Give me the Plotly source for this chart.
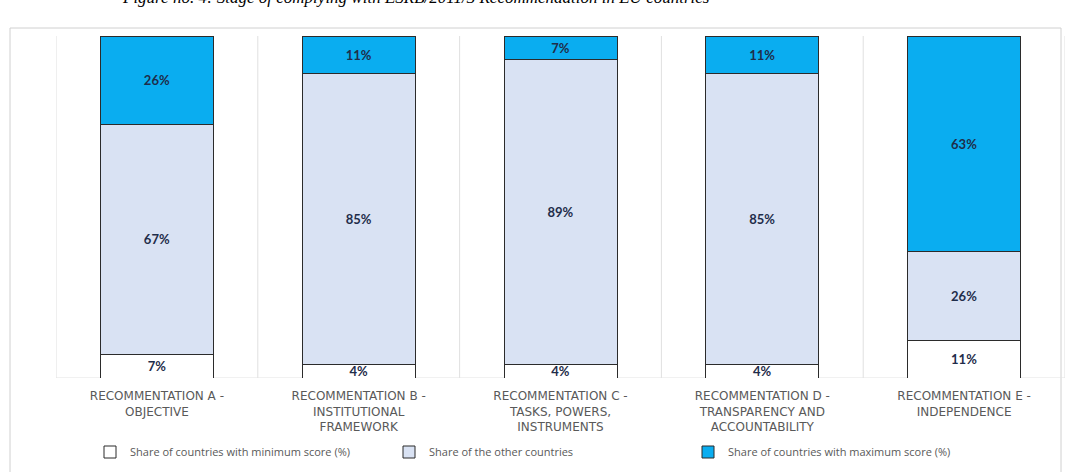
import plotly.graph_objects as go

categories = [
    "RECOMMENTATION A -<br>OBJECTIVE",
    "RECOMMENTATION B -<br>INSTITUTIONAL<br>FRAMEWORK",
    "RECOMMENTATION C -<br>TASKS, POWERS,<br>INSTRUMENTS",
    "RECOMMENTATION D -<br>TRANSPARENCY AND<br>ACCOUNTABILITY",
    "RECOMMENTATION E -<br>INDEPENDENCE",
]
min_score = [7, 4, 4, 4, 11]
other = [67, 85, 89, 85, 26]
max_score = [26, 11, 7, 11, 63]
series_names = [
    "Share of countries with minimum score (%)",
    "Share of the other countries",
    "Share of countries with maximum score (%)",
]
title_text = "Figure no. 4: Stage of complying with ESRB/2011/3 Recommendation in EU countries"

W, H = 1065, 472
L, R, T, B = 56, 0, 36, 94
pw, ph = W - L - R, H - T - B

def px_x(p):
    return (p - L) / pw

def px_y(p):
    return (H - B - p) / ph

colors = ["#FFFFFF", "#D9E2F3", "#0AADF0"]
fig = go.Figure()
for name, vals, col in zip(series_names, [min_score, other, max_score], colors):
    fig.add_trace(go.Bar(
        x=list(range(len(categories))), y=vals, name=name,
        marker=dict(color=col, line=dict(color="#2B2B2B", width=1)),
        width=0.56,
        text=[f"{v}%" for v in vals],
        textposition="inside", insidetextanchor="middle",
        textfont=dict(family="Lato", size=13, color="#1F2D4A", weight="bold"),
        hoverinfo="skip",
    ))

shapes = []
# chart frame
shapes.append(dict(type="rect", xref="paper", yref="paper",
                   x0=px_x(10), x1=px_x(1061), y0=px_y(490), y1=px_y(28),
                   line=dict(color="#D0D0D0", width=1), fillcolor="rgba(0,0,0,0)", layer="below"))
# vertical category gridlines
for i in range(len(categories) + 1):
    shapes.append(dict(type="line", xref="x", yref="paper", x0=i - 0.5, x1=i - 0.5,
                       y0=0, y1=1, line=dict(color="#E0E0E0", width=1), layer="below"))
# baseline
shapes.append(dict(type="line", xref="paper", yref="y", x0=0, x1=1, y0=0, y1=0,
                   line=dict(color="#E3E3E3", width=1), layer="below"))

fig.update_layout(
    width=W, height=H,
    margin=dict(l=L, r=R, t=T, b=B, autoexpand=False),
    paper_bgcolor="white", plot_bgcolor="white",
    barmode="stack",
    showlegend=True,
    legend=dict(orientation="h", x=px_x(90), xanchor="left", y=px_y(452), yanchor="middle",
                traceorder="normal", entrywidth=254, entrywidthmode="pixels",
                font=dict(family="Open Sans", size=11, color="#595959")),
    uniformtext=dict(mode="show", minsize=13),
    xaxis=dict(range=[-0.5, 4.5], tickmode="array", tickvals=list(range(len(categories))),
               ticktext=categories, showgrid=False, zeroline=False, showline=False,
               ticks="", ticklabelstandoff=9, automargin=False,
               tickfont=dict(family="DejaVu Sans", size=12, color="#595959")),
    yaxis=dict(range=[0, 100], visible=False, showgrid=False, zeroline=False),
    shapes=shapes,
    annotations=[dict(text=title_text, xref="paper", yref="paper", x=px_x(120), xanchor="left",
                      y=px_y(-2), yanchor="middle", showarrow=False,
                      font=dict(family="Liberation Serif", size=17, color="#000000", style="italic"))],
)

fig.write_html("out.html", config={"displayModeBar": False},
               post_script="document.body.style.margin='0';")
